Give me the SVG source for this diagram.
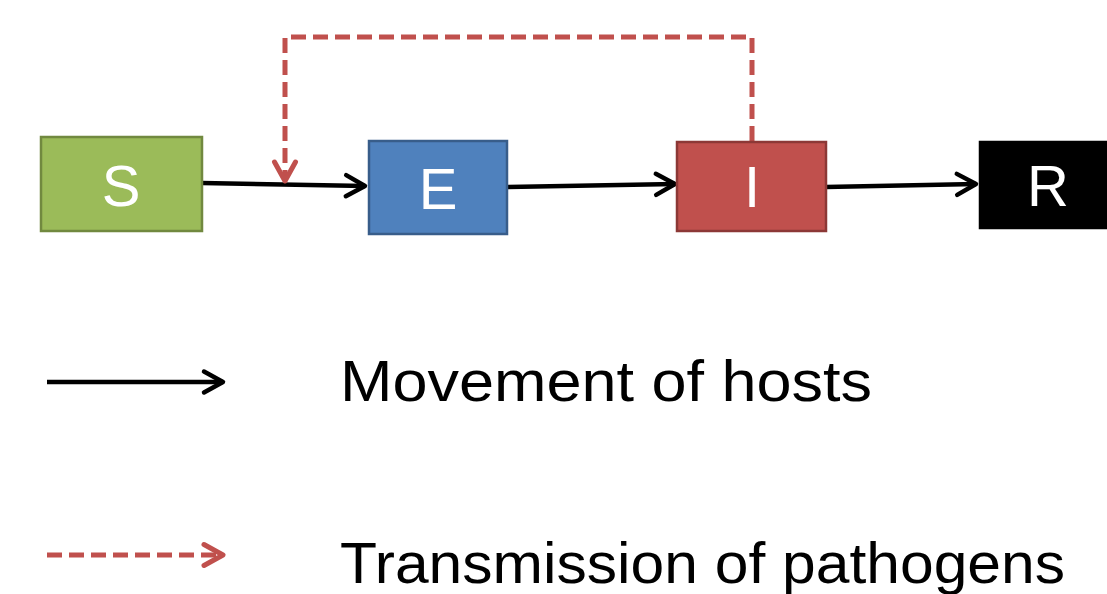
<svg xmlns="http://www.w3.org/2000/svg" width="1107" height="594" viewBox="0 0 1107 594">
  <style>
    .box { stroke-width: 2.5; }
    .label { font-family: "Liberation Sans", Arial, sans-serif; font-size: 58px; fill: #ffffff; text-anchor: middle; }
    .legend { font-family: "Liberation Sans", Arial, sans-serif; font-size: 58px; fill: #000000; }
    .move { fill: none; stroke: #000000; stroke-width: 4.5; }
    .trans { fill: none; stroke: #c0504d; stroke-width: 5; stroke-dasharray: 15 7; }
  </style>
  <defs>
    <marker id="head-black" viewBox="-25 -15 30 30" refX="0" refY="0" markerWidth="30" markerHeight="30" markerUnits="userSpaceOnUse" orient="auto">
      <path d="M-19,-10.5 L0,0 L-19,10.5" fill="none" stroke="#000000" stroke-width="4.5" stroke-linecap="round" stroke-linejoin="round"/>
    </marker>
    <marker id="head-red" viewBox="-25 -15 30 30" refX="0" refY="0" markerWidth="30" markerHeight="30" markerUnits="userSpaceOnUse" orient="auto">
      <path d="M-19,-10.5 L0,0 L-19,10.5" fill="none" stroke="#c0504d" stroke-width="5" stroke-linecap="round" stroke-linejoin="round"/>
    </marker>
  </defs>

  <rect width="1107" height="594" fill="#ffffff"/>

  <g id="connectors">
    <line class="move" x1="202" y1="183" x2="365" y2="186" marker-end="url(#head-black)"/>
    <line class="move" x1="507" y1="187" x2="675" y2="184" marker-end="url(#head-black)"/>
    <line class="move" x1="826" y1="187" x2="976" y2="184" marker-end="url(#head-black)"/>
    <path class="trans" d="M752,141 V37 H285 V181" marker-end="url(#head-red)"/>
  </g>

  <g id="node-S">
    <rect class="box" x="41" y="137" width="161" height="94" fill="#9bbb59" stroke="#71893f"/>
    <text class="label" x="121" y="206">S</text>
  </g>
  <g id="node-E">
    <rect class="box" x="369" y="141" width="138" height="93" fill="#4f81bd" stroke="#385d8a"/>
    <text class="label" x="438" y="209">E</text>
  </g>
  <g id="node-I">
    <rect class="box" x="677" y="142" width="149" height="89" fill="#c0504d" stroke="#8c3836"/>
    <text class="label" x="752" y="207">I</text>
  </g>
  <g id="node-R">
    <rect class="box" x="980" y="142" width="140" height="86" fill="#000000" stroke="#000000"/>
    <text class="label" x="1048" y="206">R</text>
  </g>

  <g id="legend-hosts">
    <line class="move" x1="47" y1="382" x2="223" y2="382" marker-end="url(#head-black)"/>
    <text class="legend" x="340" y="401" textLength="532" lengthAdjust="spacingAndGlyphs">Movement of hosts</text>
  </g>
  <g id="legend-pathogens">
    <line class="trans" x1="47" y1="555" x2="223" y2="555" marker-end="url(#head-red)"/>
    <text class="legend" x="340" y="583" textLength="725" lengthAdjust="spacingAndGlyphs">Transmission of pathogens</text>
  </g>
</svg>
